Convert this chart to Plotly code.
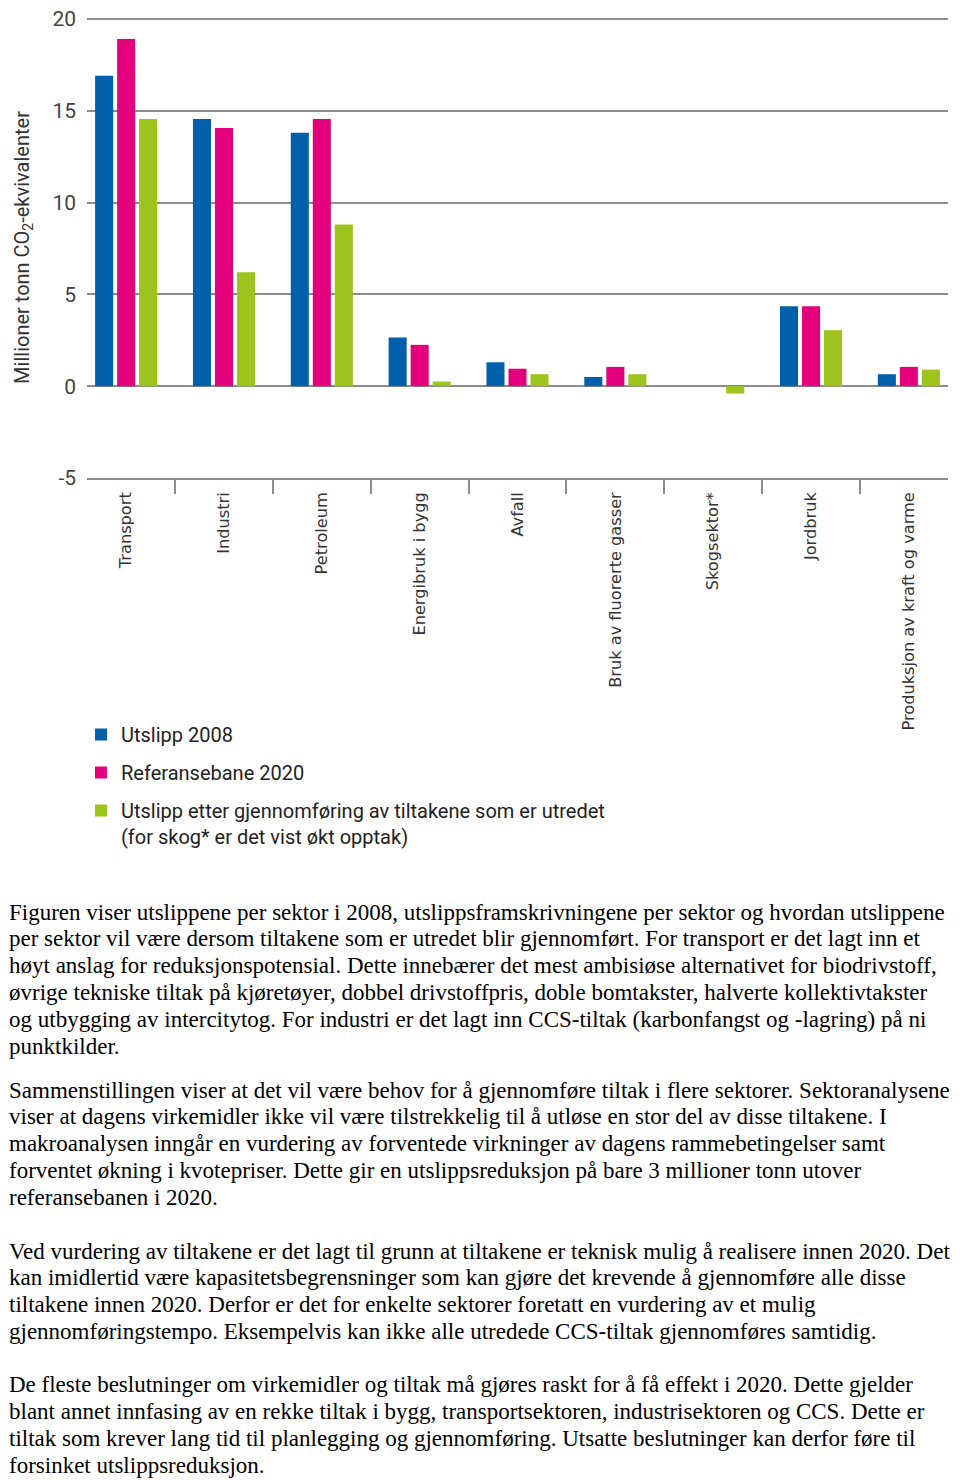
import plotly.graph_objects as go

# ---- data ----
sectors = ["Transport", "Industri", "Petroleum", "Energibruk i bygg", "Avfall",
           "Bruk av fluorerte gasser", "Skogsektor*", "Jordbruk",
           "Produksjon av kraft og varme"]
utslipp_2008 = [16.9, 14.55, 13.8, 2.65, 1.3, 0.5, 0.0, 4.35, 0.65]
referansebane_2020 = [18.9, 14.05, 14.55, 2.25, 0.95, 1.05, 0.0, 4.35, 1.05]
etter_tiltak = [14.55, 6.2, 8.8, 0.25, 0.65, 0.65, -0.4, 3.05, 0.9]

series_names = ["Utslipp 2008", "Referansebane 2020",
                "Utslipp etter gjennomføring av tiltakene som er utredet<br>(for skog* er det vist økt opptak)"]
series_colors = ["#0060AB", "#E4007C", "#9DC41C"]

y_tickvals = [-5, 0, 5, 10, 15, 20]
y_ticktext = ["-5", "0", "5", "10", "15", "20"]

paragraphs = [
    ["Figuren viser utslippene per sektor i 2008, utslippsframskrivningene per sektor og hvordan utslippene",
     "per sektor vil være dersom tiltakene som er utredet blir gjennomført. For transport er det lagt inn et",
     "høyt anslag for reduksjonspotensial. Dette innebærer det mest ambisiøse alternativet for biodrivstoff,",
     "øvrige tekniske tiltak på kjøretøyer, dobbel drivstoffpris, doble bomtakster, halverte kollektivtakster",
     "og utbygging av intercitytog. For industri er det lagt inn CCS-tiltak (karbonfangst og -lagring) på ni",
     "punktkilder."],
    ["Sammenstillingen viser at det vil være behov for å gjennomføre tiltak i flere sektorer. Sektoranalysene",
     "viser at dagens virkemidler ikke vil være tilstrekkelig til å utløse en stor del av disse tiltakene. I",
     "makroanalysen inngår en vurdering av forventede virkninger av dagens rammebetingelser samt",
     "forventet økning i kvotepriser. Dette gir en utslippsreduksjon på bare 3 millioner tonn utover",
     "referansebanen i 2020."],
    ["Ved vurdering av tiltakene er det lagt til grunn at tiltakene er teknisk mulig å realisere innen 2020. Det",
     "kan imidlertid være kapasitetsbegrensninger som kan gjøre det krevende å gjennomføre alle disse",
     "tiltakene innen 2020. Derfor er det for enkelte sektorer foretatt en vurdering av et mulig",
     "gjennomføringstempo. Eksempelvis kan ikke alle utredede CCS-tiltak gjennomføres samtidig."],
    ["De fleste beslutninger om virkemidler og tiltak må gjøres raskt for å få effekt i 2020. Dette gjelder",
     "blant annet innfasing av en rekke tiltak i bygg, transportsektoren, industrisektoren og CCS. Dette er",
     "tiltak som krever lang tid til planlegging og gjennomføring. Utsatte beslutninger kan derfor føre til",
     "forsinket utslippsreduksjon."],
]

# ---- layout geometry (pixels, figure coordinates; page has an 8px body margin) ----
OFF = 8
W, H = 960 - OFF, 1480 - OFF
Y_TOP_VAL = 20.1
PLOT_L, PLOT_R = 87 - OFF, 948 - OFF
PLOT_B = 478 - OFF
PLOT_T = 19 - OFF - round((Y_TOP_VAL - 20) * 18.36)
PLOT_H = PLOT_B - PLOT_T
PLOT_W = PLOT_R - PLOT_L


def py(p):
    """page pixel y -> paper y"""
    return (PLOT_B - (p - OFF)) / PLOT_H


def px(p):
    """page pixel x -> paper x"""
    return ((p - OFF) - PLOT_L) / PLOT_W


fig = go.Figure()
for name, vals, col in zip(series_names, [utslipp_2008, referansebane_2020, etter_tiltak], series_colors):
    fig.add_trace(go.Bar(x=sectors, y=vals, name=name, marker_color=col,
                         marker_line_width=0, legendgroup=name))

CHART_FONT = "Roboto, Arial, sans-serif"

fig.update_layout(
    width=W, height=H,
    margin=dict(l=PLOT_L, r=W - PLOT_R, t=PLOT_T, b=H - PLOT_B, autoexpand=False),
    paper_bgcolor="white", plot_bgcolor="white",
    barmode="group", bargap=0.325, bargroupgap=0.18,
    font=dict(family=CHART_FONT, color="#333333"),
    showlegend=True,
    legend=dict(x=px(81), y=py(715), xanchor="left", yanchor="top",
                font=dict(family=CHART_FONT, size=20, color="#222222"),
                tracegroupgap=9, valign="top", bgcolor="rgba(0,0,0,0)",
                traceorder="grouped"),
    xaxis=dict(range=[-0.4, 8.4], showgrid=False, zeroline=False,
               showline=True, linecolor="#8c8c8c", linewidth=1.5,
               ticks="outside", tickson="boundaries", ticklen=14,
               tickcolor="#8c8c8c", tickwidth=1.5, tickangle=-90,
               ticklabelstandoff=6,
               tickfont=dict(family="DejaVu Sans", size=16.2, color="#333333"),
               automargin=False, fixedrange=True),
    yaxis=dict(range=[-5, Y_TOP_VAL], tickvals=y_tickvals, ticktext=y_ticktext,
               showgrid=True, gridcolor="#8c8c8c", gridwidth=1.5,
               zeroline=True, zerolinecolor="#8c8c8c", zerolinewidth=1.5,
               showline=False, ticks="", ticklabelstandoff=10,
               ticklabeloverflow="allow",
               tickfont=dict(family=CHART_FONT, size=21, color="#444444"),
               title=dict(text="Millioner tonn CO<sub>2</sub>-ekvivalenter",
                          font=dict(family=CHART_FONT, size=20, color="#333333"),
                          standoff=17),
               automargin=False, fixedrange=True),
)

# body text: one annotation per line for exact line pitch
first_line_centers = [912, 1090, 1251, 1385]
LINE_PITCH = 26.8
BODY_FS = 23.0
for lines, yc in zip(paragraphs, first_line_centers):
    for i, line in enumerate(lines):
        fig.add_annotation(text=line, xref="paper", yref="paper",
                           x=px(OFF), y=py(yc + i * LINE_PITCH),
                           xanchor="left", yanchor="middle",
                           align="left", showarrow=False, borderpad=0,
                           font=dict(family="Liberation Serif, Times New Roman, serif",
                                     size=BODY_FS, color="#000000"))

fig.write_html("out.html")
